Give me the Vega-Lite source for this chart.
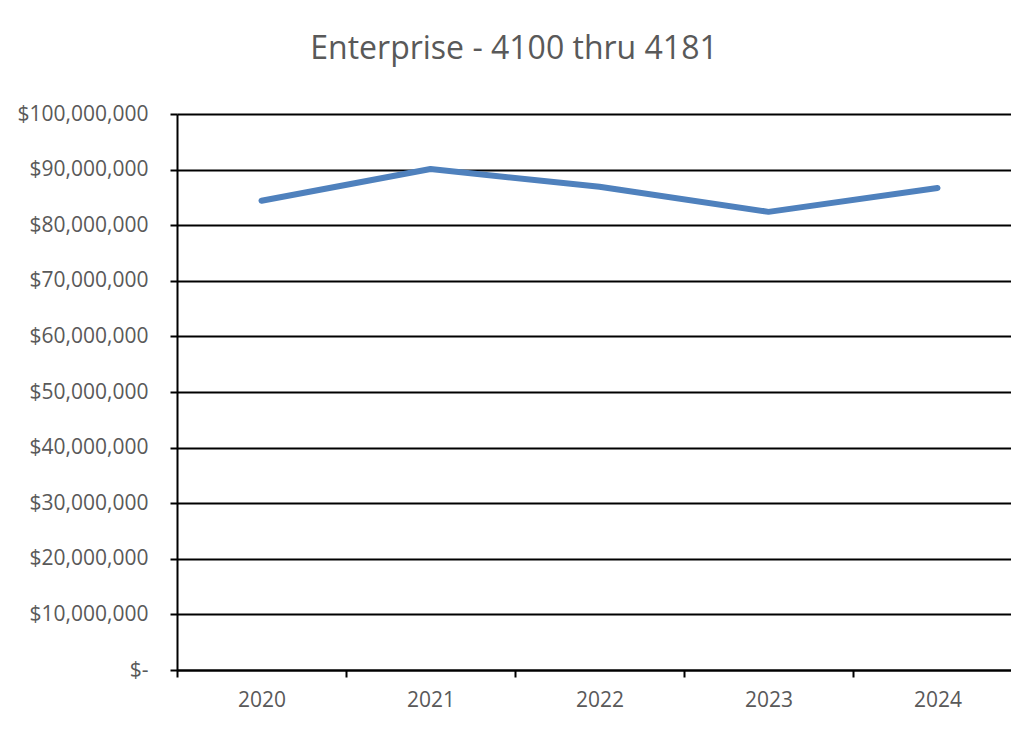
{
  "$schema": "https://vega.github.io/schema/vega-lite/v6.json",
  "autosize": {"type": "none"},
  "padding": {"left": 177, "top": 114, "right": 0, "bottom": 75},
  "width": 834,
  "height": 556,
  "background": "white",
  "title": {
    "text": "Enterprise - 4100 thru 4181",
    "font": "Open Sans",
    "fontSize": 32,
    "fontWeight": "normal",
    "color": "#595959",
    "anchor": "middle",
    "dx": -80,
    "offset": 37
  },
  "config": {"view": {"stroke": null}},
  "data": {
    "values": [
      {"year": "2020", "amount": 84400000},
      {"year": "2021", "amount": 90100000},
      {"year": "2022", "amount": 86900000},
      {"year": "2023", "amount": 82400000},
      {"year": "2024", "amount": 86700000}
    ]
  },
  "mark": {"type": "line", "color": "#4F81BD", "strokeWidth": 6, "strokeCap": "round", "strokeJoin": "round"},
  "encoding": {
    "x": {
      "field": "year",
      "type": "nominal",
      "scale": {"type": "band", "range": [0, 845], "paddingInner": 0, "paddingOuter": 0},
      "axis": {
        "title": null,
        "labelAngle": 0,
        "labelFont": "Open Sans",
        "labelFontSize": 21,
        "labelColor": "#595959",
        "labelPadding": 12,
        "tickBand": "extent",
        "tickColor": "black",
        "tickWidth": 2,
        "tickSize": 7,
        "domainColor": "black",
        "domainWidth": 2,
        "grid": false
      }
    },
    "y": {
      "field": "amount",
      "type": "quantitative",
      "scale": {"domain": [0, 100000000], "nice": false},
      "axis": {
        "title": null,
        "values": [0, 10000000, 20000000, 30000000, 40000000, 50000000, 60000000, 70000000, 80000000, 90000000, 100000000],
        "labelExpr": "datum.value == 0 ? '$-\u00a0\u00a0' : '$' + format(datum.value, ',')",
        "labelFont": "Open Sans",
        "labelFontSize": 21,
        "labelColor": "#595959",
        "labelPadding": 22,
        "tickColor": "black",
        "tickWidth": 2,
        "tickSize": 7,
        "domainColor": "black",
        "domainWidth": 2,
        "grid": true,
        "gridColor": "black",
        "gridWidth": 2,
        "gridOpacity": 1
      }
    }
  }
}
